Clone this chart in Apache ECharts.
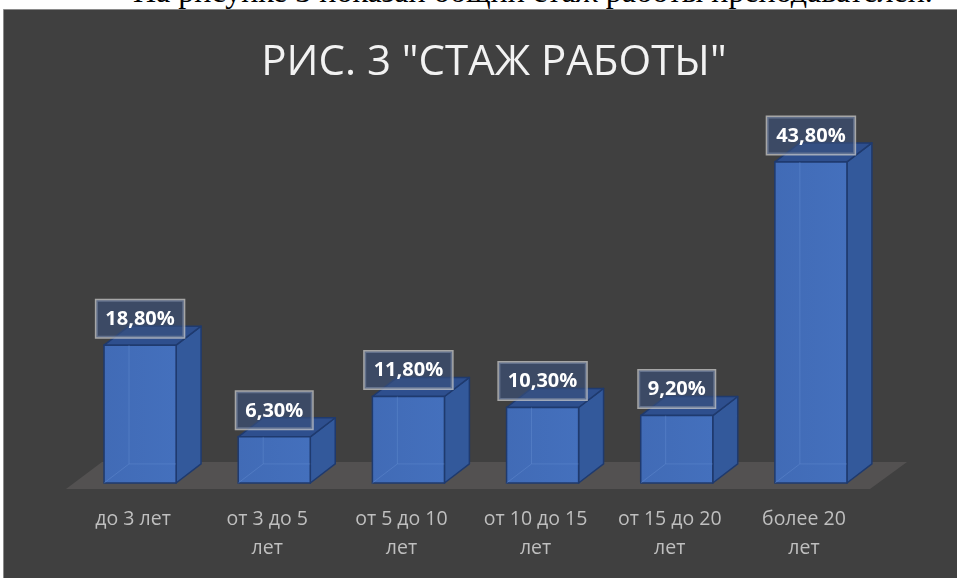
<!DOCTYPE html>
<html>
<head>
<meta charset="utf-8">
<script src="https://cdn.jsdelivr.net/npm/echarts@6/dist/echarts.min.js"></script>
<style>
  html, body { margin: 0; padding: 0; background: #ffffff; width: 957px; height: 578px; overflow: hidden; }
  #strip { position: absolute; left: 133px; top: -24px; font-family: "Liberation Serif", "DejaVu Serif", serif; font-size: 32px; line-height: 30px; color: #000; white-space: nowrap; z-index: 1; }
  #chart { position: absolute; left: 0; top: 0; width: 957px; height: 578px; z-index: 2; }
</style>
</head>
<body>
<div id="strip">На рисунке 3 показан общий стаж работы преподавателей.</div>
<div id="chart"></div>
<script>
const titleText = 'РИС. 3 "СТАЖ РАБОТЫ"';
const categories = ['до 3 лет', 'от 3 до 5\nлет', 'от 5 до 10\nлет', 'от 10 до 15\nлет', 'от 15 до 20\nлет', 'более 20\nлет'];
const values = [18.8, 6.3, 11.8, 10.3, 9.2, 43.8];
const valueLabels = ['18,80%', '6,30%', '11,80%', '10,30%', '9,20%', '43,80%'];

const chart = echarts.init(document.getElementById('chart'), null, { renderer: 'canvas' });

function renderFloor(params, api) {
  const cs = params.coordSys;
  const base = api.coord([0, 0])[1];
  const yF = base + 6, yB = base - 21;
  const xL = cs.x - 7, xR = cs.x + cs.width - 8;
  const d = 36;
  return {
    type: 'polygon',
    shape: { points: [[xL, yF], [xR, yF], [xR + d + 1, yB], [xL + d, yB]] },
    style: { fill: '#535151' },
    silent: true
  };
}

function renderBar(params, api) {
  const i = api.value(0), v = api.value(1);
  const topPt = api.coord([i, v]);
  const basePt = api.coord([i, 0]);
  const band = api.size([1, 0])[0];
  const w = band * 0.537;
  const dx = band * 0.186, dy = band * 0.142;
  const cx = topPt[0];
  const x0 = cx - w / 2, x1 = cx + w / 2;
  const yt = topPt[1], yb = basePt[1];
  const edge = '#1f3a6e';
  return {
    type: 'group',
    children: [
      { type: 'polygon', shape: { points: [[x1, yt], [x1 + dx, yt - dy], [x1 + dx, yb - dy], [x1, yb]] },
        style: { fill: '#33599b', stroke: edge, lineWidth: 1.5, lineJoin: 'round' } },
      { type: 'polygon', shape: { points: [[x0, yt], [x1, yt], [x1 + dx, yt - dy], [x0 + dx, yt - dy]] },
        style: { fill: '#2e4f8e', stroke: edge, lineWidth: 1.5, lineJoin: 'round' } },
      { type: 'rect', shape: { x: x0, y: yt, width: w, height: yb - yt },
        style: { fill: new echarts.graphic.LinearGradient(0, 0, 1, 0, [
          { offset: 0, color: '#416bb6' }, { offset: 1, color: '#4470bd' }]),
          stroke: edge, lineWidth: 1.5 } },
      { type: 'polyline', shape: { points: [[x0 + dx, yt], [x0 + dx, yb - dy], [x1, yb - dy]] },
        style: { stroke: 'rgba(110,150,215,0.35)', lineWidth: 1, fill: null } },
      { type: 'line', shape: { x1: x0, y1: yb, x2: x0 + dx, y2: yb - dy },
        style: { stroke: 'rgba(110,150,215,0.35)', lineWidth: 1 } },
      { type: 'text', z2: 10,
        style: {
          text: valueLabels[params.dataIndex], x: cx, y: yt - 8,
          align: 'center', verticalAlign: 'bottom',
          fill: '#ffffff', font: 'bold 20px "Open Sans", sans-serif',
          backgroundColor: 'rgba(58,80,124,0.62)', borderColor: 'rgba(200,200,200,0.75)', borderWidth: 1.5,
          padding: [8, 9, 7, 9], lineHeight: 22
        } }
    ]
  };
}

const option = {
  backgroundColor: 'transparent',
  animation: false,
  graphic: [
    { type: 'rect', z: -10, shape: { x: 3.5, y: 9.5, width: 960, height: 580 },
      style: { fill: '#404040', stroke: '#8a8a8a', lineWidth: 1 } }
  ],
  title: {
    text: titleText, left: 489, top: 37, textAlign: 'center',
    textStyle: { color: '#f2f2f2', fontFamily: '"Open Sans", sans-serif', fontWeight: 'normal', fontSize: 42 }
  },
  grid: { left: 73, right: 79, top: 116.5, bottom: 95, containLabel: false },
  xAxis: {
    type: 'category', data: categories,
    axisLine: { show: false }, axisTick: { show: false }, splitLine: { show: false },
    axisLabel: { color: '#bfbfbf', fontFamily: '"Open Sans", sans-serif', fontSize: 19.5, lineHeight: 29, margin: 22, padding: [0, 14, 0, 0], interval: 0 }
  },
  yAxis: { type: 'value', min: 0, max: 50, show: false },
  series: [
    { type: 'custom', renderItem: renderFloor, data: [[0, 0]], z: 1, silent: true },
    { type: 'custom', renderItem: renderBar, data: values.map((v, i) => [i, v]), z: 3,
      encode: { x: 0, y: 1 } }
  ]
};
chart.setOption(option);
</script>
</body>
</html>
